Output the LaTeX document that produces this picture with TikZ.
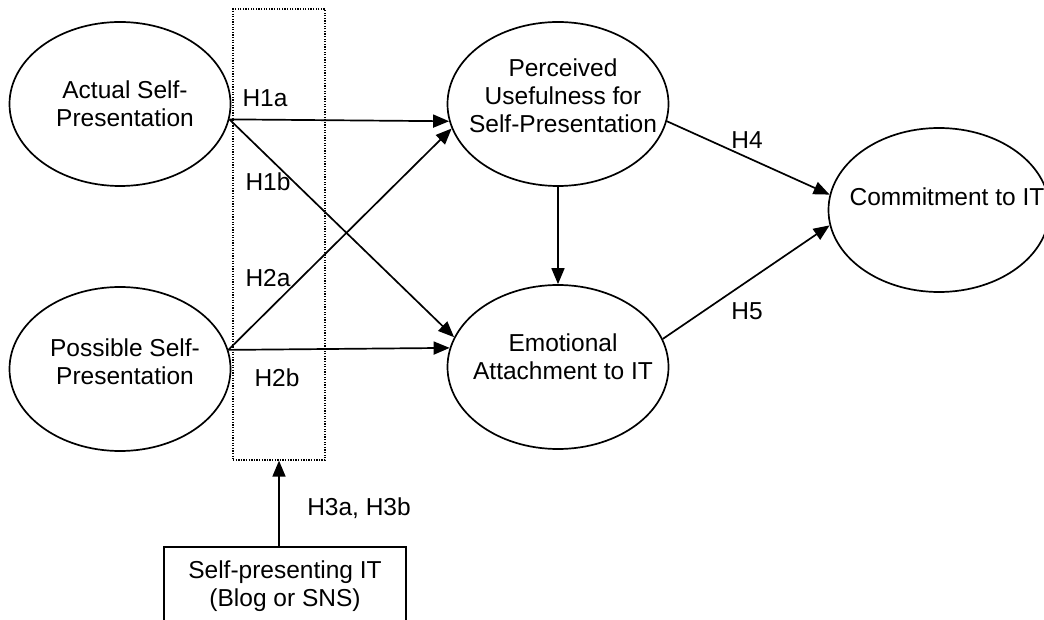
\documentclass[tikz,border=0pt]{standalone}
\usepackage{fontspec}
\setmainfont{Liberation Sans}
\usetikzlibrary{shapes.geometric,arrows.meta}
\begin{document}
\begin{tikzpicture}[x=1pt,y=-1pt,
  every node/.style={font=\fontsize{24.5}{28}\selectfont},
  latent/.style={ellipse,draw,line width=1.7pt,minimum width=221pt,minimum height=164pt,inner sep=0pt},
  arr/.style={line width=1.7pt,-{Triangle[length=16pt,width=13pt]}},
  hlab/.style={inner sep=0pt},
  ctext/.style={align=center,xshift=5pt,inner sep=0pt}
]
\useasboundingbox (0,0) rectangle (1044,620);
% moderator region
\node[draw,line width=1.3pt,dash pattern=on 1.3pt off 1.3pt,minimum width=92pt,minimum height=451pt,inner sep=0pt] (mod) at (279,234.5) {};
% constructs
\node[latent,label={[ctext]center:Actual Self-\\Presentation}] (act) at (120,104) {};
\node[latent,label={[ctext,yshift=7pt]center:Possible Self-\\Presentation}] (pos) at (120,369) {};
\node[latent,label={[ctext,yshift=8pt]center:Perceived\\Usefulness for\\Self-Presentation}] (per) at (558,104) {};
\node[latent,label={[ctext,yshift=10pt]center:Emotional\\Attachment to IT}] (emo) at (558,367) {};
\node[latent,label={[ctext,yshift=13pt,xshift=3pt]center:Commitment to IT}] (com) at (939,210) {};
\node[draw,line width=1.7pt,minimum width=242pt,minimum height=78pt,align=center,inner sep=0pt] (it) at (285,586) {Self-presenting IT\\(Blog or SNS)};
% paths
\draw[arr] (act.-8.3) -- (per.-171.6);
\draw[arr] (act.-8.3) -- (emo.164.3);
\draw[arr] (pos.10.8) -- (per.-167.2);
\draw[arr] (pos.10.8) -- (emo.170.2);
\draw[arr] (per.south) -- (emo.north);
\draw[arr] (per.-9.3) -- (com.172.4);
\draw[arr] (emo.15.6) -- (com.-172.3);
\draw[arr] (it.north -| mod.south) -- (mod.south);
% hypothesis labels
\node[hlab] (h1a) at (265,98) {H1a};
\node[hlab] (h1b) at (268,182) {H1b};
\node[hlab] (h2a) at (268,278) {H2a};
\node[hlab] (h2b) at (277,378) {H2b};
\node[hlab] (h3) at (359,508) {H3a, H3b};
\node[hlab] (h4) at (747,140) {H4};
\node[hlab] (h5) at (747,311) {H5};
\end{tikzpicture}
\end{document}
